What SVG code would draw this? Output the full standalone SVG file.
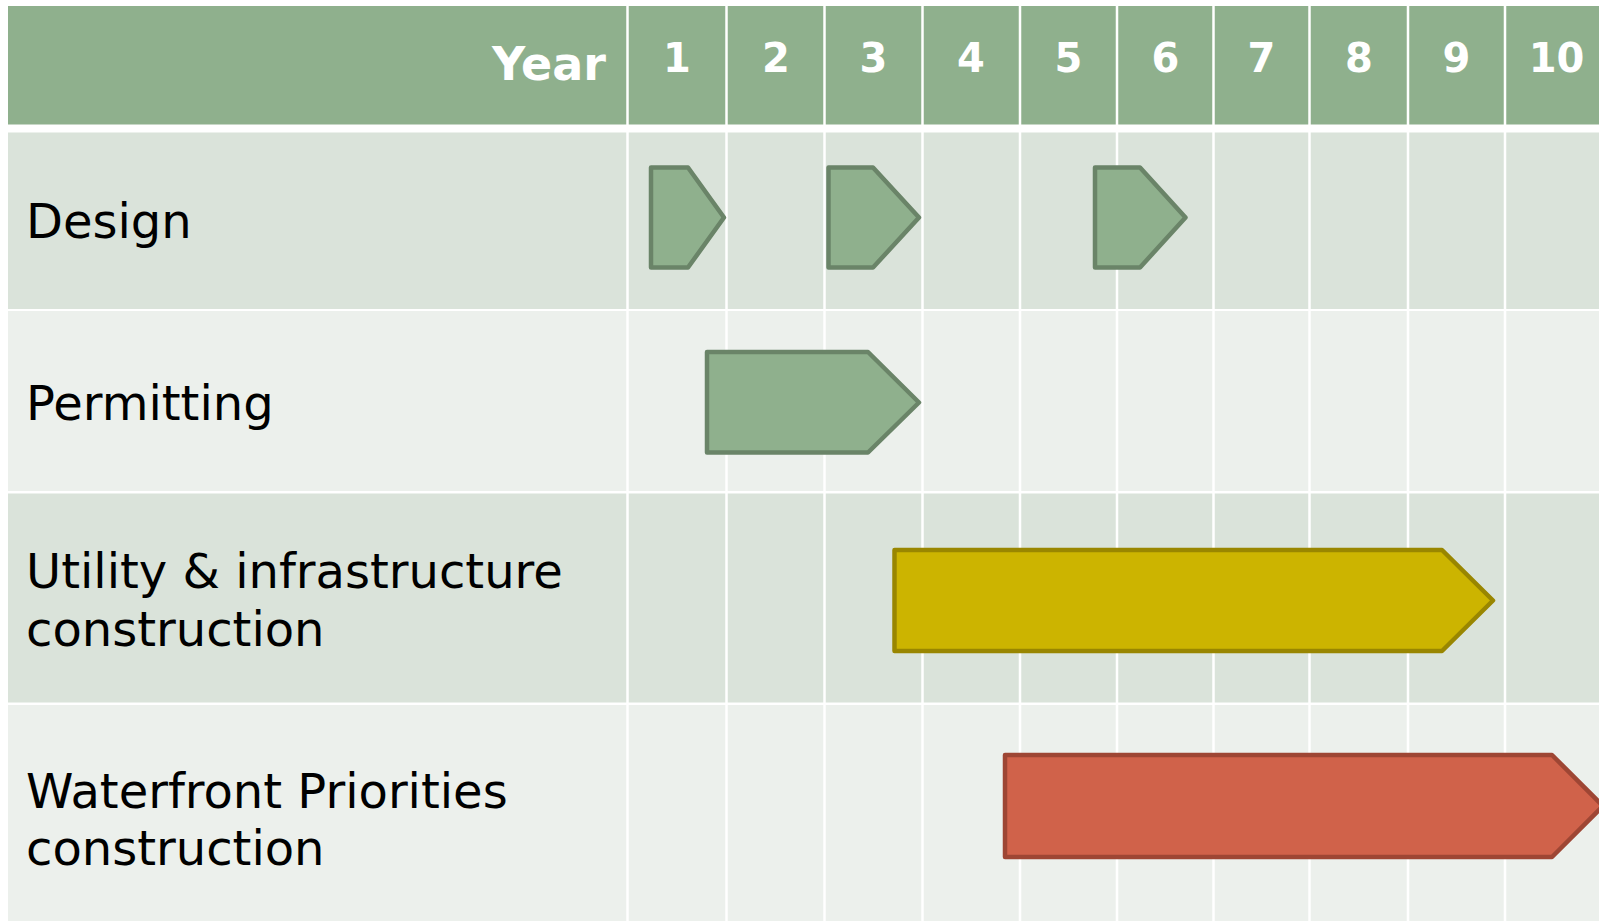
<svg xmlns="http://www.w3.org/2000/svg" width="1599" height="923" viewBox="0 0 1599 923">
<style>
.hdr{fill:#8FB08D}
.rowA{fill:#DAE3DA}
.rowB{fill:#ECF0EC}
.vline{stroke:#FFFFFF;stroke-width:2.5}
.yr{font-family:"DejaVu Sans",Verdana,sans-serif;font-weight:bold;fill:#FFFFFF}
.num{font-size:40px;text-anchor:middle}
.lbl{font-family:"DejaVu Sans",Verdana,sans-serif;font-size:48px;fill:#000000}
.green{fill:#8FB08D;stroke:#6A8468;stroke-width:4.5;stroke-linejoin:round}
.yellow{fill:#CCB400;stroke:#998600;stroke-width:4.5;stroke-linejoin:round}
.red{fill:#D0624A;stroke:#9E4634;stroke-width:4.5;stroke-linejoin:round}
</style>
<rect x="0" y="0" width="1599" height="923" fill="#FFFFFF"/>
<g id="table">
<rect class="hdr" x="8" y="6" width="1591" height="118.5"/>
<rect class="rowA" x="8" y="132.5" width="1591" height="176.5"/>
<rect class="rowB" x="8" y="311" width="1591" height="180"/>
<rect class="rowA" x="8" y="493.5" width="1591" height="209"/>
<rect class="rowB" x="8" y="705" width="1591" height="216"/>
<g id="grid-lines">
<line class="vline" x1="627.5" y1="6" x2="627.5" y2="923"/>
<line class="vline" x1="726.5" y1="6" x2="726.5" y2="923"/>
<line class="vline" x1="824.5" y1="6" x2="824.5" y2="923"/>
<line class="vline" x1="922.5" y1="6" x2="922.5" y2="923"/>
<line class="vline" x1="1020" y1="6" x2="1020" y2="923"/>
<line class="vline" x1="1117" y1="6" x2="1117" y2="923"/>
<line class="vline" x1="1213.5" y1="6" x2="1213.5" y2="923"/>
<line class="vline" x1="1309.5" y1="6" x2="1309.5" y2="923"/>
<line class="vline" x1="1408" y1="6" x2="1408" y2="923"/>
<line class="vline" x1="1505" y1="6" x2="1505" y2="923"/>
</g>
</g>
<g id="header-text" class="yr">
<text x="606" y="80" font-size="46" text-anchor="end">Year</text>
<text class="num" x="677" y="72">1</text>
<text class="num" x="776" y="72">2</text>
<text class="num" x="873.5" y="72">3</text>
<text class="num" x="971" y="72">4</text>
<text class="num" x="1068.5" y="72">5</text>
<text class="num" x="1165.5" y="72">6</text>
<text class="num" x="1261.5" y="72">7</text>
<text class="num" x="1359" y="72">8</text>
<text class="num" x="1456.5" y="72">9</text>
<text class="num" x="1556.5" y="72">10</text>
</g>
<g id="label-design"><text class="lbl" x="26" y="238">Design</text></g>
<g id="label-permitting"><text class="lbl" x="26" y="420">Permitting</text></g>
<g id="label-utility"><text class="lbl" x="26" y="588">Utility &amp; infrastructure</text><text class="lbl" x="26" y="646">construction</text></g>
<g id="label-waterfront"><text class="lbl" x="26" y="808">Waterfront Priorities</text><text class="lbl" x="26" y="865">construction</text></g>
<g id="bar-design-1"><polygon class="green" points="651,167.5 688,167.5 724,217.5 688,267.5 651,267.5"/></g>
<g id="bar-design-2"><polygon class="green" points="828.5,167.5 873,167.5 919,217.5 873,267.5 828.5,267.5"/></g>
<g id="bar-design-3"><polygon class="green" points="1095,167.5 1140,167.5 1185.5,217.5 1140,267.5 1095,267.5"/></g>
<g id="bar-permitting"><polygon class="green" points="707,352 868,352 919,402.5 868,452.5 707,452.5"/></g>
<g id="bar-utility"><polygon class="yellow" points="894.5,550 1442,550 1493,600.5 1442,651 894.5,651"/></g>
<g id="bar-waterfront"><polygon class="red" points="1005,755 1552,755 1603,806 1552,857 1005,857"/></g>
<g id="connectors"></g>
</svg>
